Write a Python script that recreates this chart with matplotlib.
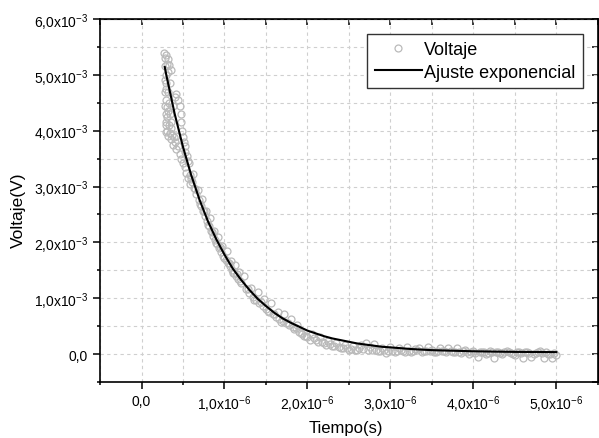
import matplotlib
matplotlib.use("Agg")
import numpy as np
import matplotlib.pyplot as plt
from matplotlib.ticker import MultipleLocator, NullFormatter

plt.rcParams['font.family'] = ['Liberation Sans', 'DejaVu Sans']
plt.rcParams['mathtext.fontset'] = 'custom'
plt.rcParams['mathtext.rm'] = 'Liberation Sans'
plt.rcParams['mathtext.default'] = 'regular'

# ---------------------------------------------------------
# Datos (tiempo en us, voltaje en mV)
# ---------------------------------------------------------

# inicio ruidoso de la senal
t_inicio = [0.275, 0.285, 0.300, 0.320, 0.335, 0.350, 0.280, 0.290, 0.300, 0.285,
            0.295, 0.305, 0.290, 0.300, 0.310, 0.320, 0.330, 0.340, 0.320, 0.330,
            0.345, 0.355, 0.340, 0.360,
            0.280, 0.285, 0.290, 0.300, 0.310, 0.295, 0.305, 0.315, 0.325, 0.370,
            0.390, 0.410,
            0.380, 0.400, 0.420, 0.440, 0.460, 0.470, 0.480, 0.490, 0.500, 0.510,
            0.520, 0.530, 0.550, 0.560,
            0.360, 0.380, 0.400, 0.420, 0.440, 0.460, 0.480, 0.500, 0.520, 0.540,
            0.560, 0.580]
v_inicio = [5.40, 5.30, 5.36, 5.28, 5.18, 5.08, 5.15, 5.00, 4.85, 4.70,
            4.55, 4.42, 4.30, 4.15, 4.00, 3.90, 4.10, 3.95, 4.70, 4.50,
            4.30, 4.15, 4.85, 4.05,
            4.90, 4.45, 4.10, 3.98, 4.25, 4.75, 5.20, 5.05, 4.35, 3.92,
            3.88, 3.90,
            4.45, 4.60, 4.65, 4.55, 4.45, 4.30, 4.15, 4.00, 3.88, 3.80,
            3.72, 3.62, 3.55, 3.45,
            3.85, 3.75, 3.80, 3.68, 3.72, 3.58, 3.50, 3.42, 3.35, 3.25,
            3.15, 3.05]

# decaimiento suave (parte superior de la banda)
t_medio = [0.575, 0.600, 0.625, 0.650, 0.675, 0.700, 0.725, 0.750, 0.775, 0.800,
           0.825, 0.850, 0.875, 0.900, 0.925, 0.950, 0.975, 1.000, 1.025, 1.050,
           1.075, 1.100, 1.125, 1.150, 1.175, 1.200,
           1.24, 1.28, 1.32, 1.36, 1.40, 1.44, 1.48, 1.52, 1.56, 1.60,
           1.64, 1.68, 1.72, 1.76, 1.80, 1.84, 1.88, 1.92, 1.96]
v_medio = [3.42, 3.14, 3.22, 2.95, 2.94, 2.68, 2.78, 2.56, 2.57, 2.32,
           2.44, 2.19, 2.21, 1.98, 2.10, 1.91, 1.94, 1.72, 1.85, 1.63,
           1.67, 1.45, 1.60, 1.43, 1.47, 1.27,
           1.39, 1.16, 1.19, 0.97, 1.11, 0.94, 0.98, 0.77, 0.91, 0.72,
           0.76, 0.58, 0.71, 0.55, 0.62, 0.45, 0.52, 0.37, 0.32]

# decaimiento suave (parte inferior de la banda)
t_medio2 = [0.5875, 0.6125, 0.6375, 0.6625, 0.6875, 0.7125, 0.7375, 0.7625, 0.7875,
            0.8125, 0.8375, 0.8625, 0.8875, 0.9125, 0.9375, 0.9625, 0.9875, 1.0125,
            1.0375, 1.0625, 1.0875, 1.1125, 1.1375, 1.1625, 1.1875,
            1.26, 1.30, 1.34, 1.38, 1.42, 1.46, 1.50, 1.54, 1.58, 1.62,
            1.66, 1.70, 1.74, 1.78, 1.82, 1.86, 1.90, 1.94, 1.98]
v_medio2 = [3.21, 3.09, 2.98, 2.87, 2.76, 2.66, 2.56, 2.47, 2.38,
            2.29, 2.20, 2.12, 2.04, 1.97, 1.90, 1.83, 1.76, 1.69,
            1.63, 1.57, 1.51, 1.46, 1.40, 1.35, 1.30,
            1.16, 1.10, 1.03, 0.97, 0.91, 0.86, 0.81, 0.76, 0.72, 0.67,
            0.63, 0.59, 0.56, 0.52, 0.49, 0.46, 0.40, 0.36, 0.33]

# cola de la senal
t_cola = [2.00, 2.05, 2.10, 2.15, 2.20, 2.25, 2.30, 2.35, 2.40, 2.45,
          2.50, 2.55, 2.60, 2.65, 2.70, 2.75, 2.80, 2.85, 2.90, 2.95,
          3.00, 3.05, 3.10, 3.15, 3.20, 3.25, 3.30, 3.35, 3.40, 3.45,
          3.50, 3.55, 3.60, 3.65, 3.70, 3.75, 3.80, 3.85, 3.90, 3.95,
          4.00, 4.05, 4.10, 4.15, 4.20, 4.25, 4.30, 4.35, 4.40, 4.45,
          4.50, 4.55, 4.60, 4.65, 4.70, 4.75, 4.80, 4.85, 4.90, 4.95, 5.00]
v_cola = [0.30, 0.36, 0.25, 0.30, 0.20, 0.24, 0.15, 0.20, 0.10, 0.17,
          0.08, 0.14, 0.07, 0.16, 0.20, 0.12, 0.18, 0.06, 0.10, 0.02,
          0.12, 0.03, 0.10, 0.06, 0.12, 0.04, 0.09, 0.11, 0.05, 0.12,
          0.08, 0.03, 0.10, 0.06, 0.11, 0.04, 0.10, 0.02, 0.07, 0.00,
          0.05, -0.06, 0.04, 0.01, 0.06, -0.07, 0.03, 0.00, 0.05, 0.02,
          -0.02, 0.04, -0.07, 0.03, -0.06, 0.02, 0.05, -0.07, 0.01, -0.07, -0.02]

t_cola2 = [2.025, 2.075, 2.125, 2.175, 2.225, 2.275, 2.325, 2.375, 2.425, 2.475,
           2.525, 2.575, 2.625, 2.675, 2.725, 2.775, 2.825, 2.875, 2.925, 2.975,
           3.025, 3.075, 3.125, 3.175, 3.225, 3.275, 3.325, 3.375, 3.425, 3.475,
           3.525, 3.575, 3.625, 3.675, 3.725, 3.775, 3.825, 3.875, 3.925, 3.975,
           4.025, 4.075, 4.125, 4.175, 4.225, 4.275, 4.325, 4.375, 4.425, 4.475,
           4.525, 4.575, 4.625, 4.675, 4.725, 4.775, 4.825, 4.875, 4.925, 4.975]
v_cola2 = [0.26, 0.28, 0.22, 0.21, 0.17, 0.18, 0.14, 0.12, 0.11, 0.10,
           0.09, 0.08, 0.10, 0.09, 0.08, 0.07, 0.08, 0.06, 0.07, 0.05,
           0.06, 0.05, 0.07, 0.04, 0.06, 0.05, 0.07, 0.04, 0.06, 0.05,
           0.04, 0.06, 0.05, 0.03, 0.05, 0.04, 0.03, 0.05, 0.03, 0.04,
           0.02, 0.04, 0.03, 0.02, 0.04, 0.03, 0.02, 0.04, 0.03, 0.01,
           0.03, 0.02, 0.04, 0.02, 0.01, 0.03, 0.02, 0.03, 0.01, 0.02]

# curva de ajuste exponencial
t_ajuste = [0.28, 0.30, 0.40, 0.50, 0.60, 0.70, 0.80, 0.90, 1.00, 1.10,
            1.20, 1.30, 1.40, 1.50, 1.60, 1.70, 1.80, 1.90, 2.00, 2.10,
            2.20, 2.30, 2.40, 2.50, 2.60, 2.70, 2.80, 2.90, 3.00, 3.25,
            3.50, 3.75, 4.00, 4.25, 4.50, 4.75, 5.00]
v_ajuste = [5.14, 4.99, 4.30, 3.71, 3.20, 2.76, 2.38, 2.06, 1.78, 1.53,
            1.33, 1.15, 0.99, 0.86, 0.74, 0.64, 0.56, 0.49, 0.42, 0.37,
            0.32, 0.28, 0.25, 0.22, 0.19, 0.17, 0.15, 0.13, 0.12, 0.09,
            0.07, 0.06, 0.05, 0.044, 0.039, 0.037, 0.035]

x_ticks = [0.0, 1e-6, 2e-6, 3e-6, 4e-6, 5e-6]
x_tick_labels = ['0,0', r'1,0x10$^{-6}$', r'2,0x10$^{-6}$', r'3,0x10$^{-6}$',
                 r'4,0x10$^{-6}$', r'5,0x10$^{-6}$']
y_ticks = [0.0, 1e-3, 2e-3, 3e-3, 4e-3, 5e-3, 6e-3]
y_tick_labels = ['0,0', r'1,0x10$^{-3}$', r'2,0x10$^{-3}$', r'3,0x10$^{-3}$',
                 r'4,0x10$^{-3}$', r'5,0x10$^{-3}$', r'6,0x10$^{-3}$']

# pasar a segundos y voltios
t_datos = np.array(t_inicio + t_medio + t_medio2 + t_cola + t_cola2) * 1e-6
v_datos = np.array(v_inicio + v_medio + v_medio2 + v_cola + v_cola2) * 1e-3
t_fit = np.array(t_ajuste) * 1e-6
v_fit = np.array(v_ajuste) * 1e-3

# ---------------------------------------------------------
# Figura
# ---------------------------------------------------------
fig = plt.figure(figsize=(5.99, 4.39), dpi=100)
ax = fig.add_axes([0.167, 0.1276, 0.831, 0.8268])

ax.plot(t_datos, v_datos, linestyle='none', marker='o', markersize=5,
        markerfacecolor='none', markeredgecolor='#bababa', markeredgewidth=0.9,
        label='Voltaje', zorder=2)
ax.plot(t_fit, v_fit, color='black', linewidth=1.5,
        label='Ajuste exponencial', zorder=3)

ax.set_xlim(-0.5e-6, 5.5e-6)
ax.set_ylim(-0.5e-3, 6.0e-3)
ax.set_xticks(x_ticks, labels=x_tick_labels)
ax.set_yticks(y_ticks, labels=y_tick_labels)
ax.xaxis.set_minor_locator(MultipleLocator(0.5e-6))
ax.yaxis.set_minor_locator(MultipleLocator(0.5e-3))
ax.tick_params(which='major', direction='out', length=5, width=1.1, labelsize=10)
ax.tick_params(which='minor', direction='out', length=2.5, width=1.1)
ax.grid(True, which='both', color='#cfcfcf', linestyle=(0, (3, 3)), linewidth=0.8)
ax.set_axisbelow(True)
for s in ax.spines.values():
    s.set_linewidth(1.2)

# ticks hacia dentro arriba y a la derecha
secx = ax.secondary_xaxis('top')
secx.set_xticks(x_ticks)
secx.xaxis.set_minor_locator(MultipleLocator(0.5e-6))
secx.xaxis.set_major_formatter(NullFormatter())
secx.tick_params(which='both', direction='in', length=4.5, width=1.1)
secy = ax.secondary_yaxis('right')
secy.set_yticks(y_ticks)
secy.yaxis.set_minor_locator(MultipleLocator(0.5e-3))
secy.yaxis.set_major_formatter(NullFormatter())
secy.tick_params(which='both', direction='in', length=4.5, width=1.1)

ax.set_xlabel('Tiempo(s)', fontsize=12)
ax.set_ylabel('Voltaje(V)', fontsize=12.5)
ax.xaxis.set_label_coords(0.494, -0.105)
ax.yaxis.set_label_coords(-0.148, 0.475)

leg = ax.legend(loc='upper right', bbox_to_anchor=(0.970, 0.959), borderaxespad=0,
                fontsize=13, handlelength=2.6, handletextpad=0.15, fancybox=False,
                framealpha=1, edgecolor='#333333', borderpad=0.4, labelspacing=0.3)
leg.get_frame().set_linewidth(1.0)

fig.savefig('out.png', dpi=100)
